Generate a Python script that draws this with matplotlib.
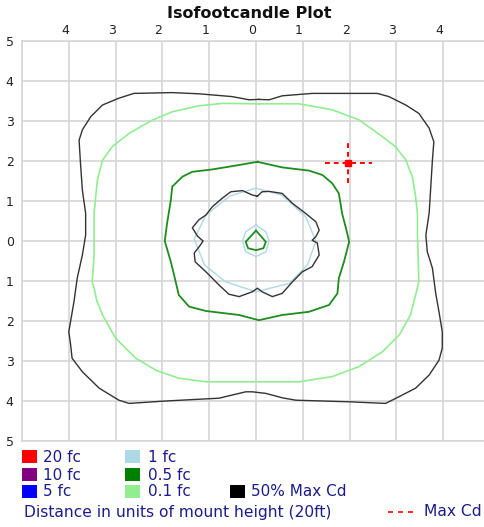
import matplotlib
matplotlib.use("Agg")
import matplotlib.pyplot as plt
from matplotlib.patches import Rectangle
from matplotlib.lines import Line2D

# ---- dati (unita' di altezza di montaggio) ----
ticks = [-5, -4, -3, -2, -1, 0, 1, 2, 3, 4, 5]

outer_black_x = [0.06, -0.15, -0.51, -1.22, -1.79, -2.61, -2.93, -3.28, -3.53, -3.71, -3.78, -3.75,
                 -3.71, -3.64, -3.64, -3.71, -3.82, -3.89, -4.00, -3.96, -3.93, -3.71, -3.35, -2.93,
                 -2.71, -1.93, -0.79, -0.22, -0.08, 0.21, 0.56, 0.85, 1.99, 2.77, 3.06, 3.41, 3.70,
                 3.91, 3.98, 3.98, 3.91, 3.84, 3.77, 3.66, 3.63, 3.70, 3.73, 3.77, 3.80, 3.70, 3.48,
                 3.20, 2.84, 2.59, 1.20, 0.56, 0.28, 0.06]
outer_black_y = [3.54, 3.53, 3.61, 3.68, 3.71, 3.69, 3.57, 3.40, 3.11, 2.78, 2.52, 1.94,
                 1.27, 0.69, 0.15, -0.35, -0.93, -1.52, -2.27, -2.60, -2.93, -3.27, -3.68, -3.98,
                 -4.06, -4.00, -3.93, -3.77, -3.77, -3.81, -3.92, -3.98, -4.02, -4.06, -3.89, -3.68, -3.35,
                 -2.98, -2.68, -2.27, -1.77, -1.31, -0.68, -0.27, 0.15, 0.70, 1.27, 2.03, 2.48, 2.82, 3.19,
                 3.40, 3.61, 3.69, 3.69, 3.63, 3.53, 3.54]

light_green_x = [0.06, -0.72, -1.22, -1.79, -2.22, -2.71, -3.07, -3.28, -3.39, -3.46, -3.46, -3.50,
                 -3.46, -3.40, -3.28, -3.00, -2.57, -2.14, -1.65, -1.07, 0.92, 1.63, 2.20, 2.70, 3.06,
                 3.30, 3.41, 3.48, 3.45, 3.45, 3.41, 3.34, 3.20, 2.98, 2.70, 2.20, 1.63, 0.92, 0.06]
light_green_y = [3.43, 3.44, 3.38, 3.23, 3.02, 2.69, 2.36, 2.02, 1.52, 0.69, -0.35, -1.02,
                 -1.18, -1.50, -1.85, -2.43, -2.93, -3.23, -3.43, -3.52, -3.52, -3.39, -3.14, -2.77, -2.35,
                 -1.85, -1.35, -1.02, 0.15, 0.69, 1.11, 1.61, 2.03, 2.36, 2.61, 3.03, 3.28, 3.43, 3.43]

dark_green_x = [0.03, -0.36, -0.93, -1.36, -1.57, -1.79, -1.82, -1.90, -1.95, -1.82, -1.75, -1.65,
                -1.43, -1.07, -0.36, 0.06, 0.56, 1.13, 1.56, 1.74, 1.77, 1.88, 1.99, 1.95, 1.84,
                1.77, 1.63, 1.42, 1.13, 0.56, 0.03]
dark_green_y = [1.98, 1.90, 1.79, 1.73, 1.61, 1.36, 1.02, 0.44, 0.00, -0.52, -0.85, -1.35,
                -1.64, -1.75, -1.85, -1.98, -1.85, -1.77, -1.60, -1.31, -0.93, -0.52, -0.02, 0.19, 0.69,
                1.19, 1.44, 1.65, 1.76, 1.84, 1.98]

half_cd_x = [0.03, -0.08, -0.29, -0.54, -0.72, -0.93, -1.07, -1.22, -1.36, -1.25, -1.13, -1.20,
             -1.32, -1.30, -1.07, -0.79, -0.58, -0.36, -0.08, 0.03, 0.13, 0.35, 0.56, 0.78, 0.99,
             1.20, 1.35, 1.31, 1.20, 1.28, 1.35, 1.28, 1.06, 0.78, 0.56, 0.28, 0.13, 0.03]
half_cd_y = [1.12, 1.15, 1.26, 1.23, 1.07, 0.86, 0.65, 0.53, 0.33, 0.12, 0.00, -0.12,
             -0.30, -0.52, -0.77, -1.10, -1.33, -1.39, -1.27, -1.18, -1.27, -1.39, -1.31, -1.02, -0.77,
             -0.64, -0.35, -0.05, 0.02, 0.11, 0.27, 0.48, 0.69, 0.94, 1.19, 1.24, 1.23, 1.12]

one_fc_x = [0.00, -0.55, -1.07, -1.32, -1.10, -0.65, 0.00, 0.71, 1.10, 1.28, 1.06, 0.55, 0.00]
one_fc_y = [1.32, 1.13, 0.65, 0.05, -0.60, -1.02, -1.27, -1.06, -0.60, 0.00, 0.61, 1.15, 1.32]

one_fc_small_x = [0.00, -0.22, -0.29, -0.22, 0.00, 0.21, 0.28, 0.21, 0.00]
one_fc_small_y = [0.40, 0.23, 0.00, -0.27, -0.39, -0.27, 0.00, 0.23, 0.40]

half_fc_small_x = [0.00, -0.22, -0.17, 0.00, 0.16, 0.21, 0.00]
half_fc_small_y = [0.26, -0.02, -0.18, -0.23, -0.18, -0.02, 0.26]

max_cd = (1.97, 1.95)

legend_labels = ["20 fc", "10 fc", "5 fc", "1 fc", "0.5 fc", "0.1 fc", "50% Max Cd"]
legend_colors = ["#ff0000", "#800080", "#0000ff", "#add8e6", "#008000", "#90ee90", "#000000"]

W, H = 484, 527
TXT = "#1c1c8c"


def fpos(x, y):
    # pixel -> frazione di figura
    return x / W, 1 - y / H


fig = plt.figure(figsize=(W / 100, H / 100), dpi=100)
ax = fig.add_axes([22 / W, 86 / H, 468 / W, 400 / H])
ax.set_xlim(-5, 5)
ax.set_ylim(-5, 5)

for t in ticks:
    ax.axvline(t, color="#d6d6d6", lw=1.2, zorder=0)
    ax.axhline(t, color="#d6d6d6", lw=1.2, zorder=0)
for s in ax.spines.values():
    s.set_color("#d6d6d6")
    s.set_linewidth(1.2)

ax.xaxis.tick_top()
ax.set_xticks(ticks[1:-1])
ax.set_xticklabels([str(abs(t)) for t in ticks[1:-1]], ha="right")
ax.set_yticks(ticks)
ax.set_yticklabels([str(abs(t)) for t in ticks])
ax.tick_params(length=0, labelsize=9, colors="#222222")
ax.tick_params(axis="x", pad=3)
ax.tick_params(axis="y", pad=6)

ax.plot(outer_black_x, outer_black_y, color="#333333", lw=1.0)
ax.plot(light_green_x, light_green_y, color="#90ee90", lw=1.2)
ax.plot(dark_green_x, dark_green_y, color="#1e8c1e", lw=1.3)
ax.plot(one_fc_x, one_fc_y, color="#add8e6", lw=1.0)
ax.plot(one_fc_small_x, one_fc_small_y, color="#add8e6", lw=1.0)
ax.plot(half_cd_x, half_cd_y, color="#333333", lw=1.0)
ax.plot(half_fc_small_x, half_fc_small_y, color="#1e8c1e", lw=1.3)

# croce Max Cd
mx, my = max_cd
ax.plot([mx - 0.5, mx + 0.5], [my, my], color="red", lw=1.4, ls=(0, (2.5, 2)))
ax.plot([mx, mx], [my - 0.5, my + 0.5], color="red", lw=1.4, ls=(0, (2.5, 2)))
ax.plot([mx], [my], marker="s", color="red", ms=5, ls="")

fig.text(*fpos(249, 14), "Isofootcandle Plot", ha="center", va="center",
         fontsize=11.5, fontweight="bold", color="#111111")

# legenda
cols = [(22, 43), (125, 148), (230, 251)]
rows = [457, 475, 492]
slots = [(0, 0), (0, 1), (0, 2), (1, 0), (1, 1), (1, 2), (2, 2)]
for lab, col, (ci, ri) in zip(legend_labels, legend_colors, slots):
    sx, tx = cols[ci]
    y = rows[ri]
    x0, y0 = fpos(sx, y + 6)
    fig.add_artist(Rectangle((x0, y0), 15 / W, 13 / H, transform=fig.transFigure,
                             facecolor=col, edgecolor="none"))
    fig.text(*fpos(tx, y), lab, ha="left", va="center", fontsize=11, color=TXT)

fig.text(*fpos(24, 512), "Distance in units of mount height (20ft)", ha="left",
         va="center", fontsize=11.2, color=TXT)
fig.add_artist(Line2D([388 / W, 416 / W], [1 - 512 / H, 1 - 512 / H], transform=fig.transFigure,
                      color="red", lw=1.2, ls=(0, (3, 3))))
fig.text(*fpos(424, 512), "Max Cd", ha="left", va="center", fontsize=11.2, color=TXT)

fig.savefig("out.png", dpi=100)
